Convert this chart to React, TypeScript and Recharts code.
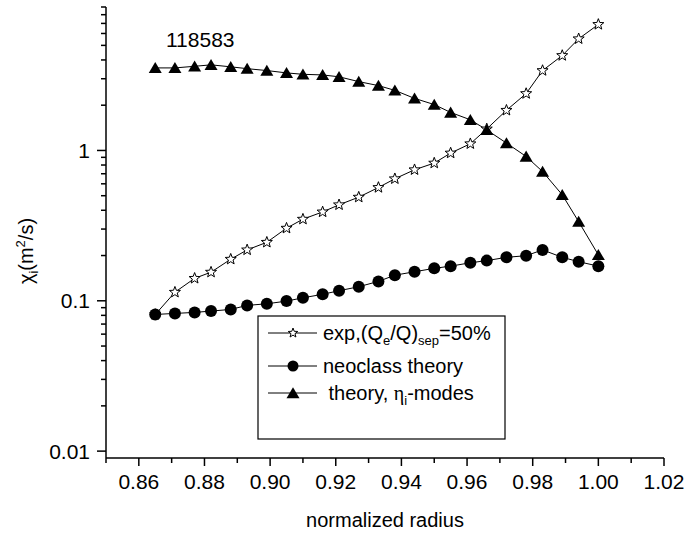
import React from "react"
import { LineChart, Line, XAxis, YAxis } from "recharts"

// Radial profiles of ion heat diffusivity, shot 118583
const radius = [
  0.865, 0.871, 0.877, 0.882, 0.888, 0.893, 0.899, 0.905, 0.910, 0.916, 0.921, 0.927, 0.933,
  0.938, 0.944, 0.950, 0.955, 0.961, 0.966, 0.972, 0.978, 0.983, 0.989, 0.994, 1.000,
]
const expChi = [
  0.081, 0.114, 0.141, 0.155, 0.189, 0.218, 0.245, 0.304, 0.349, 0.390, 0.435, 0.489, 0.567,
  0.648, 0.744, 0.824, 0.961, 1.108, 1.39, 1.85, 2.39, 3.40, 4.28, 5.53, 6.89,
]
const neoChi = [
  0.0811, 0.0824, 0.0837, 0.0854, 0.0876, 0.0932, 0.0955, 0.0995, 0.1047, 0.1104, 0.1167, 0.124,
  0.1346, 0.148, 0.156, 0.1644, 0.170, 0.179, 0.185, 0.1946, 0.1995, 0.218, 0.1946, 0.182, 0.170,
]
const etaChi = [
  3.54, 3.54, 3.63, 3.71, 3.60, 3.50, 3.40, 3.28, 3.21, 3.18, 3.09, 2.87, 2.70, 2.51, 2.22,
  2.02, 1.79, 1.60, 1.37, 1.12, 0.912, 0.724, 0.507, 0.336, 0.202,
]

const xMajor = [0.86, 0.88, 0.9, 0.92, 0.94, 0.96, 0.98, 1.0, 1.02]
const xMinor = [0.85, 0.87, 0.89, 0.91, 0.93, 0.95, 0.97, 0.99, 1.01]
const yMajor = [0.01, 0.1, 1]
const yMinor = [
  0.02, 0.03, 0.04, 0.05, 0.06, 0.07, 0.08, 0.09,
  0.2, 0.3, 0.4, 0.5, 0.6, 0.7, 0.8, 0.9,
  2, 3, 4, 5, 6, 7, 8, 9,
]

const data = radius.map((r, i) => ({ r, exp: expChi[i], neo: neoChi[i], eta: etaChi[i] }))

const FONT = "'Liberation Sans', Arial, sans-serif"

const starPoints = (cx: number, cy: number, ro: number, ri: number) => {
  const pts: string[] = []
  for (let k = 0; k < 10; k++) {
    const rad = k % 2 === 0 ? ro : ri
    const a = -Math.PI / 2 + (k * Math.PI) / 5
    pts.push(`${cx + rad * Math.cos(a)},${cy + rad * Math.sin(a)}`)
  }
  return pts.join(" ")
}

const Star = ({ cx, cy, size = 5.8 }: any) => (
  <polygon points={starPoints(cx, cy, size, size * 0.42)} fill="#fff" stroke="#000" strokeWidth={1} />
)
const Dot = ({ cx, cy, r = 6 }: any) => <circle cx={cx} cy={cy} r={r} fill="#000" />
const Tri = ({ cx, cy, s = 6.5 }: any) => (
  <polygon points={`${cx},${cy - s * 0.9} ${cx + s},${cy + s * 0.8} ${cx - s},${cy + s * 0.8}`} fill="#000" />
)

const XTick = ({ x, y, payload }: any) => {
  const major = xMajor.some((v) => Math.abs(v - payload.value) < 1e-6)
  return (
    <g>
      <line x1={x} x2={x} y1={y} y2={y + (major ? 8 : 5)} stroke="#000" strokeWidth={1.5} />
      {major && (
        <text x={x} y={y + 31} textAnchor="middle" fontSize={21} fontFamily={FONT} fill="#000">
          {payload.value.toFixed(2)}
        </text>
      )}
    </g>
  )
}

const YTick = ({ x, y, payload }: any) => {
  const major = yMajor.some((v) => Math.abs(v - payload.value) < 1e-9)
  return (
    <g>
      <line x1={x - (major ? 9 : 5)} x2={x} y1={y} y2={y} stroke="#000" strokeWidth={1.5} />
      {major && (
        <text x={x - 16} y={y + 7.5} textAnchor="end" fontSize={21} fontFamily={FONT} fill="#000">
          {String(payload.value)}
        </text>
      )}
    </g>
  )
}

export default function App() {
  return (
    <div style={{ position: "relative", width: 687, height: 536, background: "#fff", fontFamily: FONT }}>
      <style>{`body{margin:0}`}</style>
      <LineChart width={687} height={536} data={data} margin={{ top: 7, right: 23, bottom: 0, left: 0 }}>
        <XAxis
          dataKey="r"
          type="number"
          domain={[0.85, 1.02]}
          ticks={[...xMinor, ...xMajor].sort((a, b) => a - b)}
          interval={0}
          height={78}
          tickSize={0}
          tickMargin={0}
          tickLine={false}
          axisLine={{ stroke: "#000", strokeWidth: 1.5 }}
          tick={<XTick />}
        />
        <YAxis
          type="number"
          scale="log"
          domain={[0.009, 9]}
          allowDataOverflow
          ticks={[...yMajor, ...yMinor].sort((a, b) => a - b)}
          interval={0}
          width={106}
          tickSize={0}
          tickMargin={0}
          tickLine={false}
          axisLine={{ stroke: "#000", strokeWidth: 1.5 }}
          tick={<YTick />}
        />
        <Line
          dataKey="exp"
          stroke="#000"
          strokeWidth={1}
          isAnimationActive={false}
          dot={(p: any) => <Star key={`s${p.index}`} cx={p.cx} cy={p.cy} />}
        />
        <Line
          dataKey="neo"
          stroke="#000"
          strokeWidth={1}
          isAnimationActive={false}
          dot={(p: any) => <Dot key={`c${p.index}`} cx={p.cx} cy={p.cy} />}
        />
        <Line
          dataKey="eta"
          stroke="#000"
          strokeWidth={1}
          isAnimationActive={false}
          dot={(p: any) => <Tri key={`t${p.index}`} cx={p.cx} cy={p.cy} />}
        />
      </LineChart>

      <svg
        width={687}
        height={536}
        style={{ position: "absolute", left: 0, top: 0, pointerEvents: "none" }}
        fontFamily={FONT}
      >
        <text x={166} y={47} fontSize={21} fill="#000">118583</text>

        <text x={33} y={251} fontSize={20} fill="#000" textAnchor="middle" transform="rotate(-90 33 251)">
          χ<tspan dy={5} fontSize={13}>i</tspan>
          <tspan dy={-5}>(m</tspan>
          <tspan dy={-8} fontSize={13}>2</tspan>
          <tspan dy={8}>/s)</tspan>
        </text>

        <text x={385} y={527} fontSize={20} fill="#000" textAnchor="middle">normalized radius</text>

        <rect x={258} y={316} width={247} height={123} fill="#fff" stroke="#000" strokeWidth={1.2} />
        <line x1={268} x2={317} y1={333} y2={333} stroke="#000" strokeWidth={1} />
        <Star cx={293} cy={333} size={5} />
        <text x={323} y={340} fontSize={20} fill="#000">
          exp,(Q<tspan dy={5} fontSize={13}>e</tspan>
          <tspan dy={-5}>/Q)</tspan>
          <tspan dy={5} fontSize={13}>sep</tspan>
          <tspan dy={-5}>=50%</tspan>
        </text>
        <line x1={268} x2={317} y1={366} y2={366} stroke="#000" strokeWidth={1} />
        <Dot cx={293} cy={366} r={5.5} />
        <text x={323} y={373} fontSize={20} fill="#000">neoclass theory</text>
        <line x1={268} x2={317} y1={393} y2={393} stroke="#000" strokeWidth={1} />
        <Tri cx={293} cy={393} s={6.5} />
        <text x={323} y={400} fontSize={20} fill="#000" xmlSpace="preserve">
          {" theory, "}
          <tspan fontFamily="'Liberation Serif', 'Times New Roman', serif">η</tspan>
          <tspan dy={5} fontSize={13}>i</tspan>
          <tspan dy={-5}>-modes</tspan>
        </text>
      </svg>
    </div>
  )
}
